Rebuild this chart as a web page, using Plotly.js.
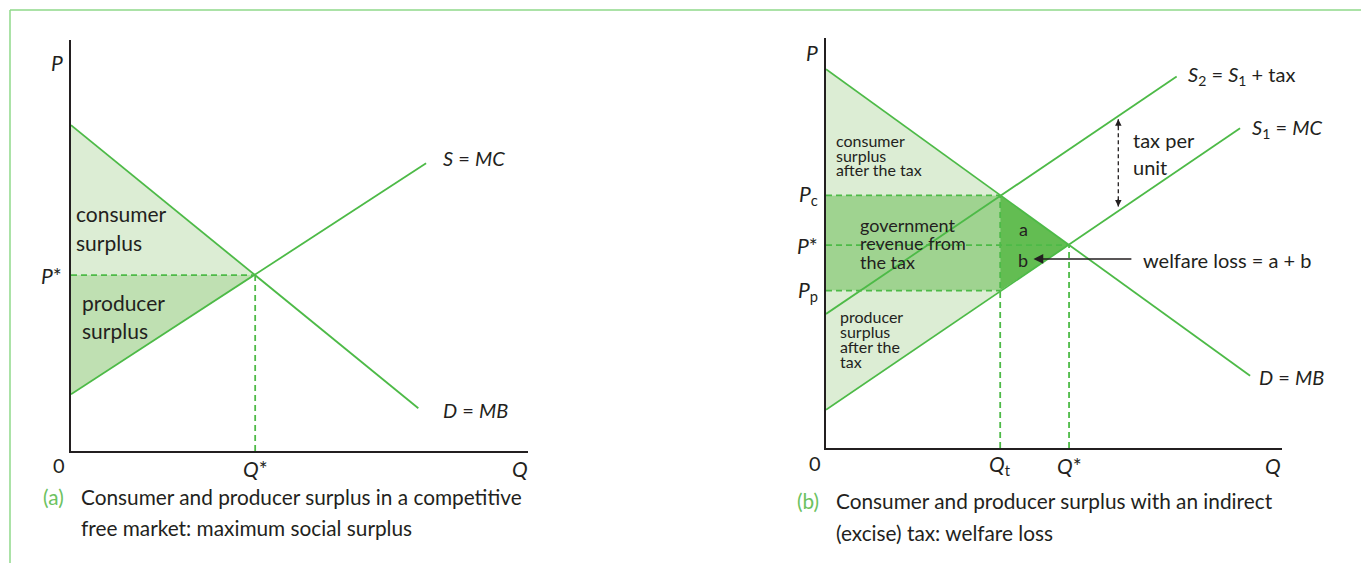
<!DOCTYPE html>
<html>
<head>
<meta charset="utf-8">
<script src="https://cdn.plot.ly/plotly-3.0.1.min.js"></script>
<style>html,body{margin:0;padding:0;background:#fff;}#chart{width:1361px;height:563px;}</style>
</head>
<body>
<div id="chart"></div>
<script>
// ---------- Panel (a) data ----------
const aDemandQ = [0, 7.60];
const aDemandP = [7.93, 1.04];
const aSupplyQ = [0, 7.77];
const aSupplyP = [1.38, 7.00];
const aEqQ = 4.03;
const aEqP = 4.28;

// ---------- Panel (b) data ----------
const bDemandQ = [0, 9.30];
const bDemandP = [9.24, 1.76];
const bS1Q = [0, 9.08];
const bS1P = [0.93, 7.80];
const bS2Q = [0, 7.69];
const bS2P = [3.27, 9.06];
const bQt = 3.82;
const bQstar = 5.33;
const bPc = 6.16;
const bPstar = 4.95;
const bPp = 3.84;
const bTaxArrowQ = 6.41;
const bTaxArrowP = [8.02, 5.89];
const bWelfareArrowP = 4.61;
const bWelfareArrowQ = [4.55, 6.73];

// ---------- styling ----------
const W = 1361, H = 563;
const PX = x => x / W;
const PY = y => 1 - y / H;
const LINE = '#4dba47';
const LIGHT = '#dcedd4';
const MID_A = '#bfe0b2';
const MID_B = '#9fd390';
const DARK = '#63bd52';
const TXT = '#231f20';
const FONT = 'Lato, "Open Sans", sans-serif';
const CAPFONT = 'Lato, sans-serif';
const DASH = '6px,4px';

function poly(xs, ys, color, xa, ya) {
  return {x: xs, y: ys, xaxis: xa, yaxis: ya, type: 'scatter', mode: 'lines',
    fill: 'toself', fillcolor: color, line: {width: 0}, hoverinfo: 'skip', showlegend: false};
}
function line(xs, ys, xa, ya, dash, w) {
  return {x: xs, y: ys, xaxis: xa, yaxis: ya, type: 'scatter', mode: 'lines',
    line: {color: LINE, width: w || 1.8, dash: dash || 'solid'}, cliponaxis: false,
    hoverinfo: 'skip', showlegend: false};
}

const traces = [
  // panel a fills
  poly([0, aEqQ, 0], [aDemandP[0], aEqP, aEqP], LIGHT, 'x', 'y'),
  poly([0, aEqQ, 0], [aSupplyP[0], aEqP, aEqP], MID_A, 'x', 'y'),
  line([0, aEqQ], [aEqP, aEqP], 'x', 'y', DASH, 1.8),
  line([aEqQ, aEqQ], [0, aEqP], 'x', 'y', DASH, 1.8),
  line(aDemandQ, aDemandP, 'x', 'y'),
  line(aSupplyQ, aSupplyP, 'x', 'y'),

  // panel b fills
  poly([0, bQt, 0], [bDemandP[0], bPc, bPc], LIGHT, 'x2', 'y2'),
  poly([0, bQt, 0], [bS1P[0], bPp, bPp], LIGHT, 'x2', 'y2'),
  poly([0, bQt, bQt, 0], [bPp, bPp, bPc, bPc], MID_B, 'x2', 'y2'),
  poly([bQt, bQstar, bQt], [bPc, bPstar, bPp], DARK, 'x2', 'y2'),
  line([0, bQt], [bPc, bPc], 'x2', 'y2', DASH),
  line([0, bQstar], [bPstar, bPstar], 'x2', 'y2', DASH),
  line([0, bQt], [bPp, bPp], 'x2', 'y2', DASH),
  line([bQt, bQt], [0, bPc], 'x2', 'y2', DASH),
  line([bQstar, bQstar], [0, bPstar], 'x2', 'y2', DASH),
  line(bDemandQ, bDemandP, 'x2', 'y2'),
  line(bS1Q, bS1P, 'x2', 'y2'),
  line(bS2Q, bS2P, 'x2', 'y2'),
  {x: [bTaxArrowQ, bTaxArrowQ], y: bTaxArrowP, xaxis: 'x2', yaxis: 'y2', type: 'scatter', mode: 'lines',
   line: {color: TXT, width: 1.3, dash: '4px,3px'}, hoverinfo: 'skip', showlegend: false}
];

function txt(text, x, y, opts) {
  return Object.assign({text: text, x: x, y: y, xref: 'paper', yref: 'paper', showarrow: false,
    xanchor: 'left', yanchor: 'middle', font: {family: FONT, size: 20, color: TXT}}, opts || {});
}
const F = (s) => ({font: {family: FONT, size: s, color: TXT}});
const CAP = {font: {family: CAPFONT, size: 20.8, color: TXT}};
const CAPG = {font: {family: CAPFONT, size: 20.8, color: '#6cc25f'}};

const annotations = [
  // ----- panel a -----
  txt('<i>P</i>', PX(57), PY(63), {xanchor: 'center', font: {family: FONT, size: 21, color: TXT}}),
  txt('<i>P</i>*', PX(64), aEqP, {yref: 'y', xanchor: 'right', font: {family: FONT, size: 21, color: TXT}}),
  txt('0', PX(59), PY(465), {xanchor: 'center'}),
  txt('<i>Q</i>*', aEqQ, PY(468), {xref: 'x', xanchor: 'center', font: {family: FONT, size: 21, color: TXT}}),
  txt('<i>Q</i>', PX(520), PY(468), {xanchor: 'center', font: {family: FONT, size: 21, color: TXT}}),
  txt('<i>S</i> = <i>MC</i>', PX(441), PY(158)),
  txt('<i>D</i> = <i>MB</i>', PX(441), PY(410)),
  txt('consumer', PX(74), PY(214), F(21)),
  txt('surplus', PX(74), PY(242), F(21)),
  txt('producer', PX(80), PY(302), F(21)),
  txt('surplus', PX(80), PY(330), F(21)),
  txt('(a)', PX(41), PY(496), CAPG),
  txt('Consumer and producer surplus in a competitive', PX(79), PY(496), CAP),
  txt('free market: maximum social surplus', PX(79), PY(527), CAP),

  // ----- panel b -----
  txt('<i>P</i>', PX(812), PY(52), {xanchor: 'center', font: {family: FONT, size: 21, color: TXT}}),
  txt('<i>P</i><sub>c</sub>', PX(820), bPc, {yref: 'y2', xanchor: 'right', font: {family: FONT, size: 21, color: TXT}}),
  txt('<i>P</i>*', PX(820), bPstar, {yref: 'y2', xanchor: 'right', font: {family: FONT, size: 21, color: TXT}}),
  txt('<i>P</i><sub>p</sub>', PX(820), bPp, {yref: 'y2', xanchor: 'right', font: {family: FONT, size: 21, color: TXT}}),
  txt('0', PX(815), PY(463), {xanchor: 'center'}),
  txt('<i>Q</i><sub>t</sub>', bQt, PY(465), {xref: 'x2', xanchor: 'center', font: {family: FONT, size: 21, color: TXT}}),
  txt('<i>Q</i>*', bQstar, PY(465), {xref: 'x2', xanchor: 'center', font: {family: FONT, size: 21, color: TXT}}),
  txt('<i>Q</i>', PX(1273), PY(465), {xanchor: 'center', font: {family: FONT, size: 21, color: TXT}}),
  txt('<i>S</i><sub>2</sub> = <i>S</i><sub>1</sub> + tax', PX(1186), PY(75)),
  txt('<i>S</i><sub>1</sub> = <i>MC</i>', PX(1250), PY(129)),
  txt('<i>D</i> = <i>MB</i>', PX(1257), PY(377)),
  txt('tax per', PX(1131), PY(140)),
  txt('unit', PX(1131), PY(167)),
  txt('welfare loss = a + b', PX(1141), PY(260)),
  txt('a', PX(1023), PY(229), {xanchor: 'center', font: {family: FONT, size: 18, color: TXT}}),
  txt('b', PX(1023), PY(260), {xanchor: 'center', font: {family: FONT, size: 18, color: TXT}}),
  txt('government', PX(858), PY(225), F(18)),
  txt('revenue from', PX(858), PY(243), F(18)),
  txt('the tax', PX(858), PY(262), F(18)),
  txt('consumer', PX(834), PY(140), F(16)),
  txt('surplus', PX(834), PY(155), F(16)),
  txt('after the tax', PX(834), PY(169), F(16)),
  txt('producer', PX(838), PY(316), F(16)),
  txt('surplus', PX(838), PY(331), F(16)),
  txt('after the', PX(838), PY(346), F(16)),
  txt('tax', PX(838), PY(361), F(16)),
  txt('(b)', PX(795), PY(500), CAPG),
  txt('Consumer and producer surplus with an indirect', PX(834), PY(500), CAP),
  txt('(excise) tax: welfare loss', PX(834), PY(532), CAP),

  // arrows
  {x: bWelfareArrowQ[0], y: bWelfareArrowP, xref: 'x2', yref: 'y2', ax: bWelfareArrowQ[1], ay: bWelfareArrowP,
   axref: 'x2', ayref: 'y2', showarrow: true, arrowhead: 2, arrowsize: 1.3, arrowwidth: 1.5, arrowcolor: TXT, text: ''},
  {x: bTaxArrowQ, y: bTaxArrowP[0], xref: 'x2', yref: 'y2', ax: 0, ay: 9, showarrow: true,
   arrowhead: 2, arrowsize: 1, arrowwidth: 1.3, arrowcolor: TXT, text: ''},
  {x: bTaxArrowQ, y: bTaxArrowP[1], xref: 'x2', yref: 'y2', ax: 0, ay: -9, showarrow: true,
   arrowhead: 2, arrowsize: 1, arrowwidth: 1.3, arrowcolor: TXT, text: ''}
];

const axisBase = {range: [0, 10], showgrid: false, zeroline: false, showticklabels: false, ticks: '',
  showline: true, linecolor: TXT, linewidth: 2, fixedrange: true};

const layout = {
  width: W, height: H, margin: {l: 0, r: 0, t: 0, b: 0},
  paper_bgcolor: '#fff', plot_bgcolor: 'rgba(0,0,0,0)', showlegend: false,
  xaxis: Object.assign({}, axisBase, {domain: [PX(71), PX(528)], anchor: 'y'}),
  yaxis: Object.assign({}, axisBase, {domain: [PY(451), PY(40)], anchor: 'x'}),
  xaxis2: Object.assign({}, axisBase, {domain: [PX(826), PX(1282)], anchor: 'y2'}),
  yaxis2: Object.assign({}, axisBase, {domain: [PY(448), PY(38)], anchor: 'x2'}),
  shapes: [
    {type: 'line', xref: 'paper', yref: 'paper', x0: PX(10), x1: 1, y0: PY(10), y1: PY(10), line: {color: '#8fd98a', width: 1.5}},
    {type: 'line', xref: 'paper', yref: 'paper', x0: PX(10), x1: PX(10), y0: PY(10), y1: 0, line: {color: '#8fd98a', width: 1.5}}
  ],
  annotations: annotations
};

Plotly.newPlot('chart', traces, layout, {staticPlot: true, displayModeBar: false});
</script>
</body>
</html>
